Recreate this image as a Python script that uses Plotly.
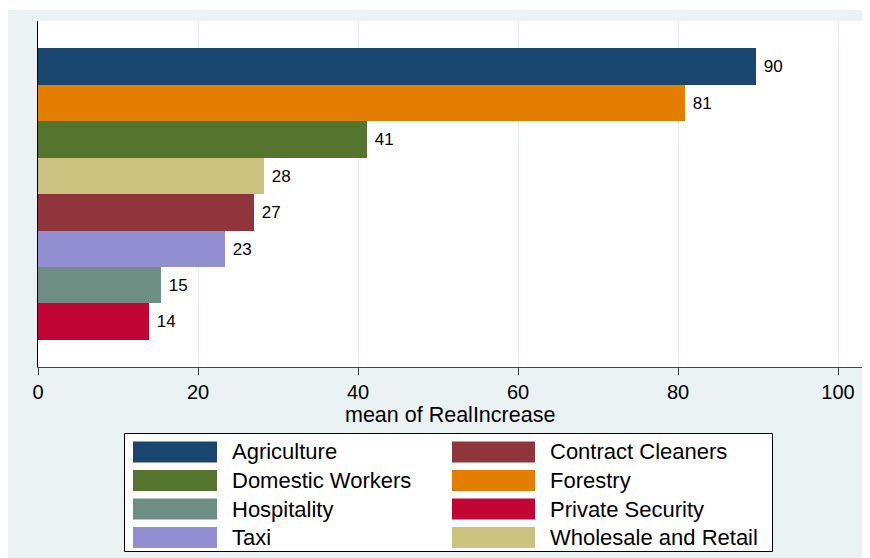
import plotly.graph_objects as go

sectors = ["Agriculture", "Forestry", "Domestic Workers", "Wholesale and Retail",
           "Contract Cleaners", "Taxi", "Hospitality", "Private Security"]
values = [89.8, 80.9, 41.1, 28.3, 27.0, 23.4, 15.4, 13.9]
colors = ["#1A476F", "#E37E00", "#55752F", "#CAC27E",
          "#90353B", "#938DD2", "#6E8E84", "#C10534"]
x_ticks = [0, 20, 40, 60, 80, 100]

# legend order (alphabetical, filled row by row in two columns)
legend_order = sorted(sectors)

# the page body adds an 8px margin, so work in figure coordinates
OFF = 8
W, H = 870 - OFF, 558 - OFF
L, R, T, B = 38 - OFF, 862 - OFF, 21 - OFF, 367 - OFF   # plot area

def px(x):
    return (x - OFF - L) / (R - L)

def py(y):
    return (B - (y - OFF)) / (B - T)

font = "Liberation Sans, Arial, sans-serif"
fig = go.Figure()

for s, v, c in zip(sectors, values, colors):
    fig.add_trace(go.Bar(
        x=[v], y=[s], orientation="h", marker=dict(color=c, line=dict(width=0)),
        text=[" %.0f" % v], textposition="outside", cliponaxis=False,
        textfont=dict(size=17, color="black", family=font),
        showlegend=False, hoverinfo="x+y"))

# white strip at the top (reference has ~2px of white above the grey)
shapes = [
    dict(type="rect", xref="paper", yref="paper", x0=px(0), x1=px(880),
         y0=py(10), y1=py(0), fillcolor="white", line=dict(width=0)),
    dict(type="rect", xref="paper", yref="paper", x0=px(124.5), x1=px(772.5),
         y0=py(551.5), y1=py(433.5), fillcolor="white",
         line=dict(color="black", width=1)),
]
annotations = [
    dict(text="mean of RealIncrease", xref="paper", yref="paper", x=0.5, y=py(415),
         xanchor="center", yanchor="middle", showarrow=False, borderpad=0,
         font=dict(size=21.5, color="black", family=font)),
]
row_y = [452, 480.5, 509, 537.5]
for i, name in enumerate(legend_order):
    r, col = divmod(i, 2)
    sx0, sx1, tx = (133, 217, 230) if col == 0 else (452, 535, 548)
    c = colors[sectors.index(name)]
    shapes.append(dict(type="rect", xref="paper", yref="paper",
                       x0=px(sx0), x1=px(sx1), y0=py(row_y[r] + 10.5), y1=py(row_y[r] - 10.5),
                       fillcolor=c, line=dict(width=0)))
    annotations.append(dict(text=name, xref="paper", yref="paper", x=px(tx), y=py(row_y[r]),
                            xanchor="left", yanchor="middle", showarrow=False,
                            font=dict(size=22, color="black", family=font)))

fig.update_layout(
    width=W, height=H,
    margin=dict(l=L, r=W - R, t=T, b=H - B),
    paper_bgcolor="#EAF2F3", plot_bgcolor="white",
    barmode="overlay", bargap=0,
    shapes=shapes, annotations=annotations,
    font=dict(family=font, color="black"),
    xaxis=dict(range=[0, 103], tickvals=x_ticks, ticks="outside", ticklen=7,
               tickcolor="#444", showline=True, linecolor="#444", linewidth=1,
               showgrid=True, gridcolor="#E4EDF0", gridwidth=1, zeroline=False,
               tickfont=dict(size=20), fixedrange=True),
    yaxis=dict(categoryorder="array", categoryarray=sectors[::-1],
               range=[-1.24, 8.24], showticklabels=False, ticks="",
               showline=True, linecolor="black", linewidth=1, showgrid=False,
               zeroline=False, fixedrange=True),
)

fig.write_html("out.html")
